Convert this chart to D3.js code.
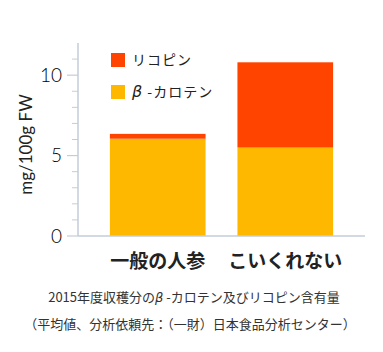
<!DOCTYPE html>
<html>
<head>
<meta charset="utf-8">
<script src="https://d3js.org/d3.v7.min.js"></script>
<style>
  body { margin: 0; background: #fff; }
  svg text { font-family: "Noto Sans CJK JP", "Noto Sans", sans-serif; }
</style>
</head>
<body>
<svg id="chart" width="383" height="352"></svg>
<script>
// data
var categories = ["一般の人参", "こいくれない"];
var betaCarotene = [6.05, 5.5];
var lycopene = [0.3, 5.3];
var yTicks = [0, 5, 10];
var seriesNames = ["リコピン", "β -カロテン"];

var svg = d3.select("#chart");
var margin = {left: 78, top: 43, right: 18, bottom: 116};
var width = 383 - margin.left - margin.right,
    height = 352 - margin.top - margin.bottom;

var x = d3.scaleBand().domain(categories).range([0, width]).paddingInner(0.25).paddingOuter(0.25);
var y = d3.scaleLinear().domain([0, 12]).range([height, 0]);

var g = svg.append("g").attr("transform", "translate(" + margin.left + "," + margin.top + ")");

var colors = {lyco: "#ff4400", beta: "#ffb800"};
var axisColor = "#c5ccd8";

// minor ticks
var minor = d3.range(1, 12).filter(function(v){ return v % 5 != 0; });
g.selectAll(".minor").data(minor).enter().append("line")
  .attr("x1", -6).attr("x2", 0)
  .attr("y1", function(d){ return y(d); }).attr("y2", function(d){ return y(d); })
  .attr("stroke", axisColor).attr("stroke-width", 1);

g.selectAll(".major").data(yTicks).enter().append("line")
  .attr("x1", -11).attr("x2", 0)
  .attr("y1", function(d){ return y(d); }).attr("y2", function(d){ return y(d); })
  .attr("stroke", axisColor).attr("stroke-width", 1.2);

g.selectAll(".ylab").data(yTicks).enter().append("text")
  .attr("x", -16).attr("y", function(d){ return y(d); })
  .attr("dy", "0.36em").attr("text-anchor", "end")
  .style("font-family", "Lato, 'Noto Sans', sans-serif")
  .style("font-weight", "300")
  .style("font-size", "19px").style("fill", "#000")
  .text(function(d){ return d; });

// bars
g.selectAll(".beta").data(categories).enter().append("rect")
  .attr("x", function(d){ return x(d); })
  .attr("width", x.bandwidth())
  .attr("y", function(d, i){ return y(betaCarotene[i]); })
  .attr("height", function(d, i){ return y(0) - y(betaCarotene[i]); })
  .attr("fill", colors.beta);

g.selectAll(".lyco").data(categories).enter().append("rect")
  .attr("x", function(d){ return x(d); })
  .attr("width", x.bandwidth())
  .attr("y", function(d, i){ return y(betaCarotene[i] + lycopene[i]); })
  .attr("height", function(d, i){ return y(betaCarotene[i]) - y(betaCarotene[i] + lycopene[i]); })
  .attr("fill", colors.lyco);

// axis lines
g.append("line").attr("x1", 0).attr("x2", 0).attr("y1", 0).attr("y2", height)
  .attr("stroke", axisColor).attr("stroke-width", 1.5);
g.append("line").attr("x1", 0).attr("x2", width).attr("y1", height).attr("y2", height)
  .attr("stroke", axisColor).attr("stroke-width", 1.5);

// x labels
g.selectAll(".xlab").data(categories).enter().append("text")
  .attr("x", function(d){ return x(d) + x.bandwidth() / 2; })
  .attr("y", height + 32)
  .attr("text-anchor", "middle")
  .style("font-size", "19px").style("font-weight", "bold").style("fill", "#222")
  .text(function(d){ return d; });

// y title
svg.append("text")
  .attr("transform", "translate(32," + (margin.top + height / 2 + 5) + ") rotate(-90)")
  .attr("text-anchor", "middle")
  .style("font-family", "Lato, 'Noto Sans', sans-serif")
  .style("font-size", "17px").style("fill", "#222")
  .text("mg/100g FW");

// legend
var legend = svg.append("g").attr("transform", "translate(111,53)");
var legColors = [colors.lyco, colors.beta];
seriesNames.forEach(function(name, i) {
  var row = legend.append("g").attr("transform", "translate(0," + (i * 32) + ")");
  row.append("rect").attr("width", 14).attr("height", 14).attr("fill", legColors[i]);
  var t = row.append("text").attr("x", 21).attr("y", 7).attr("dy", "0.36em")
    .style("font-size", "14px").style("fill", "#222").style("letter-spacing", "1px");
  if (name.charAt(0) == "β") {
    t.append("tspan").style("font-style", "italic").style("font-family", "'DejaVu Sans', sans-serif").style("font-size", "16px").text("β");
    t.append("tspan").text(name.slice(1));
  } else {
    t.text(name);
  }
});

// caption
var cap = svg.append("text").attr("x", 194).attr("y", 302).attr("text-anchor", "middle")
  .style("font-size", "13px").style("fill", "#333");
cap.append("tspan").text("2015年度収穫分の");
cap.append("tspan").style("font-style", "italic").style("font-family", "'DejaVu Sans', sans-serif").text("β");
cap.append("tspan").text(" -カロテン及びリコピン含有量");

svg.append("text").attr("x", 190).attr("y", 329).attr("text-anchor", "middle")
  .style("font-size", "13px").style("fill", "#333")
  .text("（平均値、分析依頼先：（一財）日本食品分析センター）");
</script>
</body>
</html>
